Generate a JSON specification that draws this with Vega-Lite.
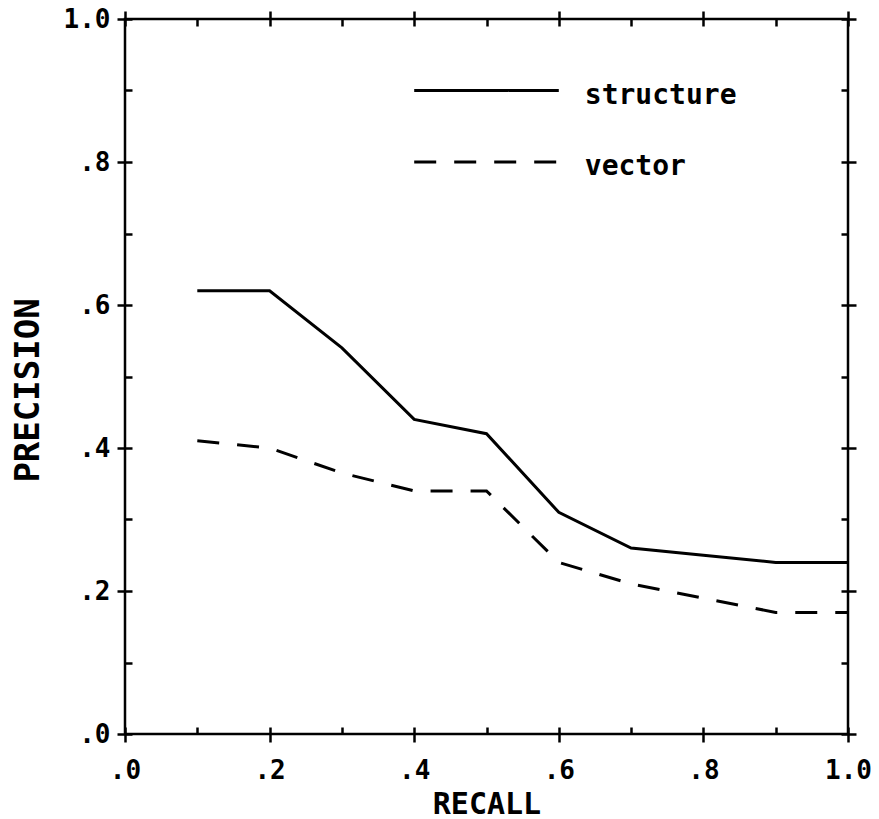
{
  "$schema": "https://vega.github.io/schema/vega-lite/v6.json",
  "width": 723,
  "height": 715,
  "autosize": {"type": "none"},
  "padding": {"left": 125, "top": 19, "right": 31, "bottom": 85},
  "background": "white",
  "config": {"view": {"stroke": "black", "strokeWidth": 2.5}, "font": "DejaVu Sans Mono"},
  "datasets": {
    "curves": [
      {"series": "structure", "recall": 0.1, "precision": 0.62},
      {"series": "structure", "recall": 0.2, "precision": 0.62},
      {"series": "structure", "recall": 0.3, "precision": 0.54},
      {"series": "structure", "recall": 0.4, "precision": 0.44},
      {"series": "structure", "recall": 0.5, "precision": 0.42},
      {"series": "structure", "recall": 0.6, "precision": 0.31},
      {"series": "structure", "recall": 0.7, "precision": 0.26},
      {"series": "structure", "recall": 0.8, "precision": 0.25},
      {"series": "structure", "recall": 0.9, "precision": 0.24},
      {"series": "structure", "recall": 1.0, "precision": 0.24},
      {"series": "vector", "recall": 0.1, "precision": 0.41},
      {"series": "vector", "recall": 0.2, "precision": 0.40},
      {"series": "vector", "recall": 0.3, "precision": 0.365},
      {"series": "vector", "recall": 0.4, "precision": 0.34},
      {"series": "vector", "recall": 0.5, "precision": 0.34},
      {"series": "vector", "recall": 0.6, "precision": 0.24},
      {"series": "vector", "recall": 0.7, "precision": 0.21},
      {"series": "vector", "recall": 0.8, "precision": 0.19},
      {"series": "vector", "recall": 0.9, "precision": 0.17},
      {"series": "vector", "recall": 1.0, "precision": 0.17}
    ],
    "legend": [
      {"series": "structure", "x": 0.4, "x2": 0.6, "y": 0.9},
      {"series": "vector", "x": 0.4, "x2": 0.6, "y": 0.8}
    ]
  },
  "layer": [
    {
      "data": {"name": "curves"},
      "transform": [{"filter": "datum.series == 'structure'"}],
      "mark": {"type": "line", "color": "black", "strokeWidth": 3},
      "encoding": {
        "x": {
          "field": "recall", "type": "quantitative",
          "scale": {"domain": [0, 1], "nice": false, "zero": false},
          "axis": {
            "orient": "bottom",
            "values": [0, 0.2, 0.4, 0.6, 0.8, 1],
            "domain": false, "grid": false,
            "tickColor": "black", "tickWidth": 2.5, "tickSize": 8,
            "labelExpr": "datum.value==1 ? '1.0' : '.'+round(datum.value*10)",
            "labelFont": "DejaVu Sans Mono", "labelFontSize": 26, "labelFontWeight": "bold", "labelColor": "black",
            "labelPadding": 15, "labelFlush": false, "labelOverlap": false, "labelBound": false,
            "title": "RECALL", "titleFont": "DejaVu Sans Mono", "titleFontSize": 30, "titleFontWeight": "bold",
            "titleColor": "black", "titleBaseline": "alphabetic", "titleY": 79
          }
        },
        "y": {
          "field": "precision", "type": "quantitative",
          "scale": {"domain": [0, 1], "nice": false, "zero": false},
          "axis": {
            "orient": "left",
            "values": [0, 0.2, 0.4, 0.6, 0.8, 1],
            "domain": false, "grid": false,
            "tickColor": "black", "tickWidth": 2.5, "tickSize": 8,
            "labelExpr": "datum.value==1 ? '1.0' : '.'+round(datum.value*10)",
            "labelFont": "DejaVu Sans Mono", "labelFontSize": 26, "labelFontWeight": "bold", "labelColor": "black",
            "labelPadding": 7, "labelFlush": false, "labelOverlap": false, "labelBound": false,
            "title": "PRECISION", "titleFont": "DejaVu Sans Mono", "titleFontSize": 34, "titleFontWeight": "bold",
            "titleColor": "black", "titleBaseline": "alphabetic", "titleAngle": -90, "titleAlign": "center",
            "titleX": -87, "titleY": 371
          }
        }
      }
    },
    {
      "data": {"name": "curves"},
      "transform": [{"filter": "datum.series == 'vector'"}],
      "mark": {"type": "line", "color": "black", "strokeWidth": 3, "strokeDash": [22, 18]},
      "encoding": {
        "x": {
          "field": "recall", "type": "quantitative",
          "scale": {"domain": [0, 1], "nice": false, "zero": false},
          "axis": {
            "orient": "bottom",
            "values": [0, 0.1, 0.2, 0.3, 0.4, 0.5, 0.6, 0.7, 0.8, 0.9, 1],
            "domain": false, "grid": false, "labels": false, "title": null,
            "tickColor": "black", "tickWidth": 2.5, "tickSize": -7
          }
        },
        "y": {
          "field": "precision", "type": "quantitative",
          "scale": {"domain": [0, 1], "nice": false, "zero": false},
          "axis": {
            "orient": "left",
            "values": [0, 0.1, 0.2, 0.3, 0.4, 0.5, 0.6, 0.7, 0.8, 0.9, 1],
            "domain": false, "grid": false, "labels": false, "title": null,
            "tickColor": "black", "tickWidth": 2.5, "tickSize": -7
          }
        }
      }
    },
    {
      "data": {"name": "legend"},
      "mark": {"type": "rule", "color": "black", "strokeWidth": 3},
      "encoding": {
        "x": {
          "field": "x", "type": "quantitative",
          "scale": {"domain": [0, 1], "nice": false, "zero": false},
          "axis": {
            "orient": "top",
            "values": [0, 0.2, 0.4, 0.6, 0.8, 1],
            "domain": false, "grid": false, "labels": false, "title": null,
            "tickColor": "black", "tickWidth": 2.5, "tickSize": 8
          }
        },
        "x2": {"field": "x2"},
        "y": {
          "field": "y", "type": "quantitative",
          "scale": {"domain": [0, 1], "nice": false, "zero": false},
          "axis": {
            "orient": "right",
            "values": [0, 0.2, 0.4, 0.6, 0.8, 1],
            "domain": false, "grid": false, "labels": false, "title": null,
            "tickColor": "black", "tickWidth": 2.5, "tickSize": 8
          }
        },
        "strokeDash": {
          "field": "series", "type": "nominal",
          "scale": {"domain": ["structure", "vector"], "range": [[1, 0], [22, 18]]},
          "legend": null
        }
      }
    },
    {
      "data": {"name": "legend"},
      "mark": {"type": "text", "align": "left", "baseline": "middle", "dx": 26, "dy": 5, "fontSize": 28, "fontWeight": "bold", "font": "DejaVu Sans Mono", "color": "black"},
      "encoding": {
        "x": {
          "field": "x2", "type": "quantitative",
          "scale": {"domain": [0, 1], "nice": false, "zero": false},
          "axis": {
            "orient": "top",
            "values": [0, 0.1, 0.2, 0.3, 0.4, 0.5, 0.6, 0.7, 0.8, 0.9, 1],
            "domain": false, "grid": false, "labels": false, "title": null,
            "tickColor": "black", "tickWidth": 2.5, "tickSize": -7
          }
        },
        "y": {
          "field": "y", "type": "quantitative",
          "scale": {"domain": [0, 1], "nice": false, "zero": false},
          "axis": {
            "orient": "right",
            "values": [0, 0.1, 0.2, 0.3, 0.4, 0.5, 0.6, 0.7, 0.8, 0.9, 1],
            "domain": false, "grid": false, "labels": false, "title": null,
            "tickColor": "black", "tickWidth": 2.5, "tickSize": -7
          }
        },
        "text": {"field": "series", "type": "nominal"}
      }
    }
  ],
  "resolve": {"axis": {"x": "independent", "y": "independent"}}
}
